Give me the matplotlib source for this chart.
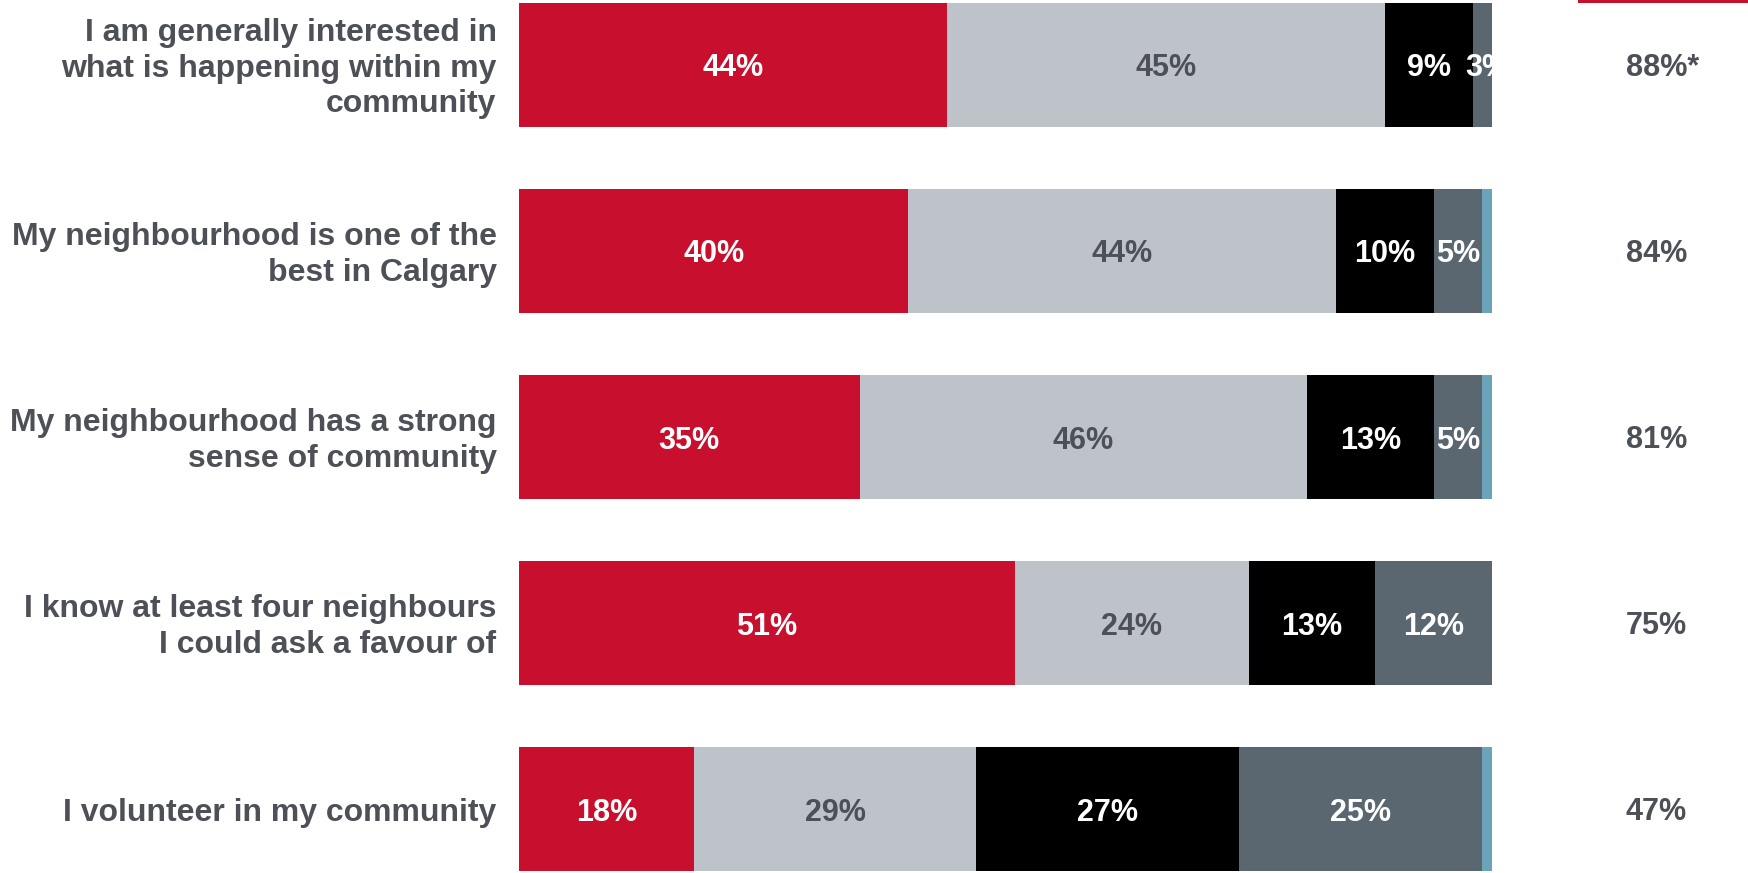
import matplotlib.pyplot as plt
from matplotlib.patches import Rectangle

plt.rcParams['font.family'] = ['Liberation Sans', 'DejaVu Sans']

statements = [
    "I am generally interested in\nwhat is happening within my\ncommunity",
    "My neighbourhood is one of the\nbest in Calgary",
    "My neighbourhood has a strong\nsense of community",
    "I know at least four neighbours\nI could ask a favour of",
    "I volunteer in my community",
]
strongly_agree = [44, 40, 35, 51, 18]
somewhat_agree = [45, 44, 46, 24, 29]
somewhat_disagree = [9, 10, 13, 13, 27]
strongly_disagree = [3, 5, 5, 12, 25]
dont_know = [0, 1, 1, 0, 1]
total_agree = ["88%*", "84%", "81%", "75%", "47%"]

series = [strongly_agree, somewhat_agree, somewhat_disagree, strongly_disagree, dont_know]
colors = ["#C8102E", "#BDC3C9", "#000000", "#5B6770", "#6BA4B8"]
text_colors = ["white", "#4D5057", "white", "white", "white"]
label_color = "#4D5057"

fig = plt.figure(figsize=(17.49, 8.73), dpi=100)
ax = fig.add_axes([519 / 1749, 0, 973 / 1749, 1])

ypos = list(range(len(statements)))
left = [0] * len(statements)
for vals, col, tcol in zip(series, colors, text_colors):
    ax.barh(ypos, vals, left=left, height=0.667, color=col, edgecolor="none")
    for y, v, l in zip(ypos, vals, left):
        if v >= 3:
            ax.text(l + v / 2, y, f"{v}%", ha="center", va="center_baseline",
                    color=tcol, fontsize=22, fontweight="bold", clip_on=True)
    left = [a + b for a, b in zip(left, vals)]

ax.set_xlim(0, 100)
ax.set_ylim(4 + 64 / 186, -65 / 186)
ax.axis("off")

for y, s in zip(ypos, statements):
    ax.text(-2.3, y + 0.02, s, ha="right", va="center", color=label_color,
            fontsize=23, fontweight="bold", linespacing=1.25)

for y, t in zip(ypos, total_agree):
    fig.text(1626 / 1749, 1 - (65 + 186 * y) / 873, t, ha="left", va="center_baseline",
             color=label_color, fontsize=22, fontweight="bold")

# header accent line at the top right
fig.add_artist(Rectangle((1578 / 1749, 1 - 3 / 873), 171 / 1749, 3 / 873,
                         transform=fig.transFigure, color="#C8102E", lw=0))

fig.savefig("out.png", dpi=100)
